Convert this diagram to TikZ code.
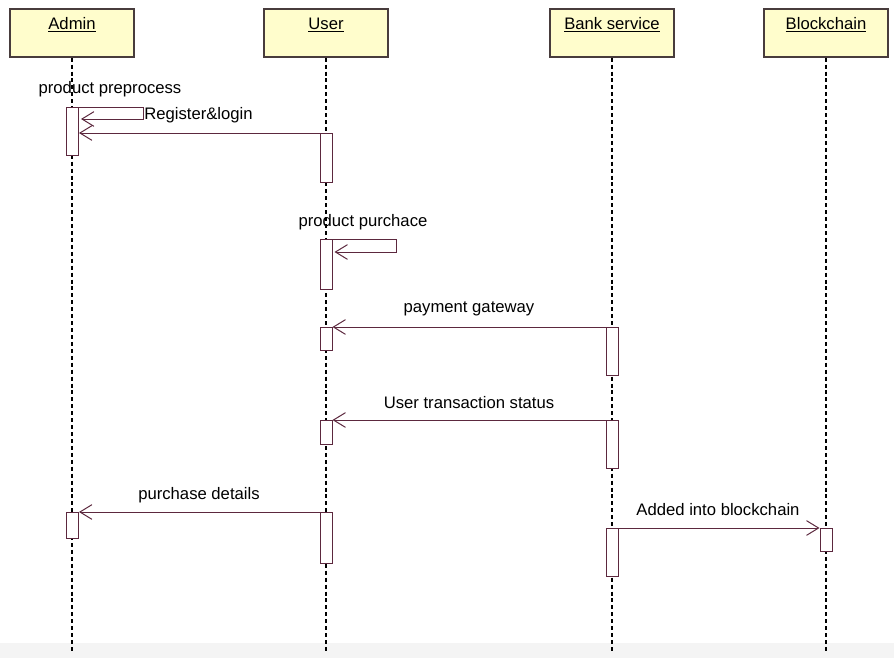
\documentclass[tikz,border=0pt]{standalone}
\usepackage{fontspec}
\setmainfont{Liberation Sans}
\usepackage{tikz}
\usetikzlibrary{arrows.meta}
\usetikzlibrary{calc}

\definecolor{headfill}{RGB}{255,253,204}
\definecolor{headline}{RGB}{72,60,60}
\definecolor{msgcol}{RGB}{92,40,62}
\definecolor{bandgray}{RGB}{244,244,244}

\tikzset{
  head/.style={draw=headline,line width=1pt,fill=headfill,minimum width=93pt,inner xsep=0pt,inner ysep=0pt,text height=15pt,text depth=21pt,font=\fontsize{12.5}{14}\selectfont},
  lifeline/.style={line width=0.8pt,dash pattern={on 3pt off 2.2pt}},
  actbox/.style={draw=msgcol,line width=0.75pt,fill=white,minimum width=9pt,inner sep=0pt,anchor=north},
  msg/.style={draw=msgcol,line width=0.75pt,-{Straight Barb[length=9pt,width=11pt]}},
  msglbl/.style={inner sep=0.75pt,font=\fontsize{12.5}{14}\selectfont}
}

\begin{document}
\begin{tikzpicture}[x=0.75pt,y=0.75pt,yscale=-1,xscale=1]
		\useasboundingbox (0,0) rectangle (894,658);
		%Shape: Rectangle [id:band]
		\fill [bandgray] (0,643) rectangle (894,658);

		% Header boxes
		\node [head] (admin) at (72,33) {\underline{Admin}};
		\node [head] (user) at (326,33) {\underline{User}};
		\node [head] (bank) at (612,33) {\underline{Bank service}};
		\node [head] (chain) at (826,33) {\underline{Blockchain}};

		% Life lines
		\foreach \p in {admin,user,bank,chain}{
			\coordinate (\p end) at (\p.south |- 0,653);
			\draw [lifeline] (\p.south) -- (\p end);
		}

		%Shape: Activations
		\node [actbox,minimum height=36pt] (a1) at (72.5,107) {};
		\node [actbox,minimum height=36.75pt] (u1) at (326,133) {};
		\node [actbox,minimum height=37.5pt] (u2) at (326,239) {};
		\node [actbox,minimum height=17.25pt] (u3) at (326,327) {};
		\node [actbox,minimum height=36pt] (b1) at (612,327) {};
		\node [actbox,minimum height=18pt] (u4) at (326,420) {};
		\node [actbox,minimum height=36pt] (b2) at (612,420) {};
		\node [actbox,minimum height=19.5pt] (a2) at (72.5,512) {};
		\node [actbox,minimum height=38.25pt] (u5) at (326,512) {};
		\node [actbox,minimum height=36pt] (b3) at (612,528) {};
		\node [actbox,minimum height=17.25pt] (k1) at (826,528) {};

		%Straight Lines: messages
		\draw [msg] (a1.north east) -- ++(64,0) |- ($(a1.north east)+(2,12)$);
		\draw [msg] (u1.north west) -- (a1.east |- u1.north west);
		\draw [msg] (u2.north east) -- ++(64,0) |- ($(u2.north east)+(2,13)$);
		\draw [msg] (b1.north west) -- (u3.north east);
		\draw [msg] (b2.north west) -- (u4.north east);
		\draw [msg] (u5.north west) -- (a2.north east);
		\draw [msg] (b3.north east) -- (k1.north west);

		% Text Node
		\node [msglbl] (lblpre) at (110,89) {product preprocess};
		% Text Node
		\node [msglbl,anchor=west] (lblreg) at (143,115) {Register\&login};
		% Text Node
		\node [msglbl] (lblbuy) at (363,222) {product purchace};
		% Text Node
		\node [msglbl] (lblpay) at (469,309) {payment gateway};
		% Text Node
		\node [msglbl] (lblstat) at (469,403) {User transaction status};
		% Text Node
		\node [msglbl] (lbldet) at (199,495) {purchase details};
		% Text Node
		\node [msglbl] (lbladd) at (718,510) {Added into blockchain};

\end{tikzpicture}
\end{document}
